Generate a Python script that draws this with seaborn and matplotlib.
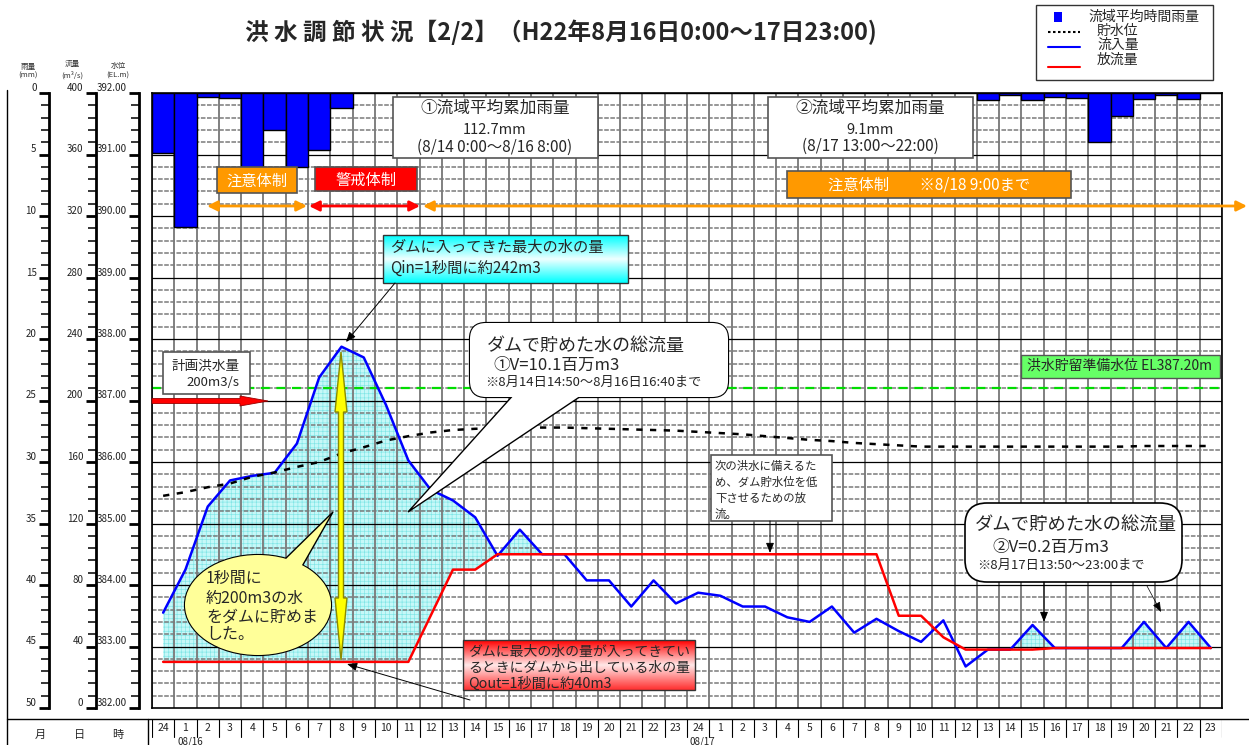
import matplotlib
matplotlib.use('Agg')
import matplotlib.pyplot as plt
import seaborn as sns
import numpy as np
from matplotlib.patches import Rectangle, FancyBboxPatch, Polygon, Ellipse, FancyArrowPatch
from matplotlib.ticker import MultipleLocator, FormatStrFormatter

# ---------------- data ----------------
hour_labels = [24, 1, 2, 3, 4, 5, 6, 7, 8, 9, 10, 11, 12, 13, 14, 15, 16, 17, 18, 19, 20, 21, 22, 23,
               24, 1, 2, 3, 4, 5, 6, 7, 8, 9, 10, 11, 12, 13, 14, 15, 16, 17, 18, 19, 20, 21, 22, 23]
date_labels = ["08/16", "08/17"]

rain_mm = [4.9, 10.9, 0.3, 0.4, 6.0, 3.0, 6.0, 4.6, 1.2, 0, 0, 0, 0, 0, 0, 0, 0, 0, 0, 0, 0, 0, 0, 0,
           0, 0, 0, 0, 0, 0, 0, 0, 0, 0, 0, 0, 0, 0.6, 0.2, 0.6, 0.3, 0.4, 4.0, 1.9, 0.5, 0.2, 0.5, 0]

inflow = [62, 90, 131, 148, 151, 153, 172, 215, 235, 228, 197, 161, 142, 135, 124, 99, 116, 100,
          100, 83, 83, 66, 83, 68, 75, 73, 66, 66, 59, 56, 66, 49, 58, 50, 43, 57, 27, 38, 38, 54,
          39, 39, 39, 39, 56, 39, 56, 39]

outflow = [30, 30, 30, 30, 30, 30, 30, 30, 30, 30, 30, 30, 60, 90, 90, 100, 100, 100,
           100, 100, 100, 100, 100, 100, 100, 100, 100, 100, 100, 100, 100, 100, 100, 60, 60, 46, 38, 38, 38, 38,
           39, 39, 39, 39, 39, 39, 39, 39]

level = [385.45, 385.51, 385.59, 385.65, 385.76, 385.83, 385.92, 386.00, 386.14, 386.24, 386.35, 386.42,
         386.48, 386.52, 386.54, 386.55, 386.56, 386.56, 386.56, 386.55, 386.54, 386.53, 386.52, 386.51,
         386.49, 386.47, 386.45, 386.42, 386.39, 386.36, 386.34, 386.31, 386.29, 386.27, 386.25, 386.25,
         386.25, 386.25, 386.25, 386.25, 386.25, 386.25, 386.25, 386.25, 386.26, 386.26, 386.26, 386.26]

flood_prep_level = 387.20
planned_flow = 200

idx = np.arange(len(hour_labels))

# ---------------- style ----------------
sns.set_theme(style='white')
plt.rcParams['font.family'] = ['Noto Sans CJK JP', 'DejaVu Sans']
plt.rcParams['hatch.linewidth'] = 0.45

W, H = 1249, 745
fig = plt.figure(figsize=(W / 100, H / 100), dpi=100)
fig.patch.set_facecolor('white')

TOP, BOT, LEFT, RIGHT = 93, 708, 152, 1222


def frect(x0, y0, x1, y1):
    return [x0 / W, 1 - y1 / H, (x1 - x0) / W, (y1 - y0) / H]


# ---------------- main axes ----------------
ax = fig.add_axes(frect(LEFT, TOP, RIGHT, BOT))
ax.set_facecolor('white')
for b in np.arange(-0.5, 48, 1):
    ax.axvline(b, color='#808080', lw=1.4, zorder=1)
for v in range(8, 400, 8):
    if v % 40 == 0:
        ax.axhline(v, color='black', lw=0.9, zorder=1.1)
    else:
        ax.axhline(v, color='#7a7a7a', lw=1.1, ls=(0, (3, 1)), zorder=1)

inf = np.array(inflow, float)
outf = np.array(outflow, float)
mask = (inf >= outf) & ((idx <= 17) | (idx >= 37))
ax.fill_between(idx, outf, inf, where=mask, interpolate=True, facecolor='#c6f8f8',
                edgecolor='#7fe6e6', hatch='++++', lw=0, zorder=0.8)

sns.lineplot(x=idx, y=inf, ax=ax, color='#0000FF', lw=1.8, zorder=3)
sns.lineplot(x=idx, y=outf, ax=ax, color='#FF0000', lw=1.8, zorder=3.1)
ax.axhline((flood_prep_level - 382) * 40, color='#00DD00', lw=1.6, ls=(0, (4, 3)), zorder=2.5)

ax.set_xlim(-0.5, 47.5)
ax.set_ylim(0, 400)
ax.set_xticks([])
ax.set_yticks([])
ax.set_xlabel('')
ax.set_ylabel('')
for s in ax.spines.values():
    s.set_color('black')
    s.set_linewidth(1.2)

# rain (inverted, hanging from top)
ax_r = ax.twinx()
sns.barplot(x=idx, y=rain_mm, ax=ax_r, native_scale=True, width=1, color='#0000FF',
            saturation=1, edgecolor='black', linewidth=1, errorbar=None, zorder=4)
ax_r.set_ylim(50, 0)
ax_r.set_xlim(-0.5, 47.5)
ax_r.set_yticks([])
ax_r.set_xticks([])
ax_r.set_ylabel('')
ax_r.set_xlabel('')
for s in ax_r.spines.values():
    s.set_visible(False)

# water level
ax_l = ax.twinx()
sns.lineplot(x=idx, y=level, ax=ax_l, color='black', lw=1.8, linestyle=(0, (2.5, 3)), zorder=3)
ax_l.set_ylim(382, 392)
ax_l.set_xlim(-0.5, 47.5)
ax_l.set_yticks([])
ax_l.set_xticks([])
ax_l.set_ylabel('')
for s in ax_l.spines.values():
    s.set_visible(False)


# ---------------- left scales ----------------
def scale_axis(xpix, lo, hi, major, minor, fmt):
    a = fig.add_axes(frect(xpix, TOP, xpix + 0.5, BOT))
    a.patch.set_visible(False)
    a.set_ylim(lo, hi)
    for s in ['top', 'right', 'bottom']:
        a.spines[s].set_visible(False)
    a.spines['left'].set_linewidth(2)
    a.spines['left'].set_color('black')
    a.set_xticks([])
    a.yaxis.set_major_locator(MultipleLocator(major))
    a.yaxis.set_minor_locator(MultipleLocator(minor))
    a.yaxis.set_major_formatter(FormatStrFormatter(fmt))
    a.tick_params(axis='y', which='major', direction='out', length=7, width=2, labelsize=7,
                  pad=2, colors='black', left=True)
    a.tick_params(axis='y', which='minor', direction='out', length=6, width=1.3, left=True)
    for lb in a.get_yticklabels():
        lb.set_verticalalignment('bottom')
        lb.set_color('#222222')
    return a


scale_axis(49, 50, 0, 5, 1, '%d')
scale_axis(96, 0, 400, 40, 8, '%d')
scale_axis(139, 382, 392, 1, 0.2, '%.2f')

# ---------------- hour table ----------------
tab = fig.add_axes(frect(LEFT, 719, RIGHT, 745))
tab.set_xlim(-0.5, 47.5)
tab.set_ylim(26, 0)
tab.axis('off')
for b in np.arange(-0.5, 48, 1):
    tab.plot([b, b], [0, 18], color='black', lw=0.8)
for i, h in zip(idx, hour_labels):
    tab.text(i, 9, str(h), ha='center', va='center', fontsize=7.5, color='#222222')
tab.text(1.2, 22.5, date_labels[0], ha='center', va='center', fontsize=7, color='#222222')
tab.text(23.6, 22.5, date_labels[1], ha='left', va='center', fontsize=7, color='#222222')

# ---------------- overlay (pixel coordinates) ----------------
ov = fig.add_axes([0, 0, 1, 1])
ov.set_zorder(10)
ov.patch.set_visible(False)
ov.axis('off')


def reset():
    ov.set_xlim(0, W)
    ov.set_ylim(H, 0)


reset()


def box(x0, y0, x1, y1, fc='white', ec='#555555', lw=1.2, z=5):
    ov.add_patch(Rectangle((x0, y0), x1 - x0, y1 - y0, fc=fc, ec=ec, lw=lw, zorder=z))


def t(x, y, s, size, ha='center', z=8, **kw):
    ov.text(x, y, s, fontsize=size, ha=ha, va='center', zorder=z, **kw)


def grad_box(x0, y0, x1, y1, cols):
    n = 60
    cols = np.array([matplotlib.colors.to_rgb(c) for c in cols])
    pos = np.linspace(0, 1, len(cols))
    yy = np.linspace(0, 1, n)
    arr = np.stack([np.interp(yy, pos, cols[:, k]) for k in range(3)], axis=-1)[:, None, :]
    ov.imshow(arr, extent=(x0, x1, y1, y0), aspect='auto', zorder=5, interpolation='bilinear')
    ov.add_patch(Rectangle((x0, y0), x1 - x0, y1 - y0, fill=False, ec='#333333', lw=1, zorder=6))
    reset()


def arrow(p0, p1, lw=0.7, color='black'):
    ov.annotate('', xy=p1, xytext=p0, zorder=7,
                arrowprops=dict(arrowstyle='-|>,head_length=0.5,head_width=0.2', color=color,
                                lw=lw, shrinkA=0, shrinkB=0))


# frame lines on the left / bottom
ov.plot([7, 7], [90, 745], color='black', lw=1)
ov.plot([7, W], [719, 719], color='black', lw=1)
ov.plot([148, 148], [719, 745], color='black', lw=1)

# left headers
t(28, 67, '雨量', 5.5, color='#333333')
t(28, 76, '(mm)', 5.5, color='#333333')
t(72, 64, '流量', 5.5, color='#333333')
t(72, 75, '(m³/s)', 5.5, color='#333333')
t(118, 66, '水位', 5.5, color='#333333')
t(118, 76, '(EL.m)', 5.5, color='#333333')
t(40, 735, '月', 8)
t(80, 735, '日', 8)
t(118, 735, '時', 8)

# title
t(561, 32, '洪 水 調 節 状 況【2/2】（H22年8月16日0:00～17日23:00)', 17, fontweight='bold')

# legend
box(1036, 5, 1213, 80, ec='#333333', lw=1)
ov.add_patch(Rectangle((1054, 12), 8, 10, fc='#0000FF', ec='none', zorder=6))
t(1088, 17, '流域平均時間雨量', 10, ha='left')
ov.plot([1048, 1080], [32, 32], color='black', lw=1.5, ls=(0, (1.2, 1.2)), zorder=6)
t(1097, 31, '貯水位', 10, ha='left')
ov.plot([1048, 1080], [47, 47], color='#0000FF', lw=1.5, zorder=6)
t(1097, 45, '流入量', 10, ha='left')
ov.plot([1048, 1080], [67, 67], color='#FF0000', lw=1.5, zorder=6)
t(1097, 60, '放流量', 10, ha='left')

# cumulative rain boxes
box(393, 97, 598, 158)
t(495, 108, '①流域平均累加雨量', 12)
t(495, 130, '112.7mm', 10.5)
t(495, 147, '(8/14 0:00～8/16 8:00)', 11)
box(768, 97, 973, 158)
t(870, 108, '②流域平均累加雨量', 12)
t(870, 130, '9.1mm', 10.5)
t(870, 146, '(8/17 13:00～22:00)', 11)

# alert boxes
box(217, 167, 297, 193, fc='#FF9900', ec='#555555')
t(257, 181, '注意体制', 11, color='white')
box(315, 167, 417, 191, fc='#FF0000', ec='#555555')
t(366, 180, '警戒体制', 11, color='white')
box(787, 171, 1071, 198, fc='#FF9900', ec='#555555')
t(929, 185, '注意体制　　※8/18 9:00まで', 11, color='white')


def darrow(x0, x1, y, color):
    ov.add_patch(FancyArrowPatch((x0, y), (x1, y), arrowstyle='<|-|>,head_length=0.6,head_width=0.3',
                                 mutation_scale=10, color=color, lw=2, zorder=6,
                                 shrinkA=0, shrinkB=0))


darrow(207, 307, 206, '#FF9900')
darrow(309, 420, 206, '#FF0000')
darrow(423, 1247, 206, '#FF9900')

# max inflow box
grad_box(383, 235, 628, 283, ['#00FFFF', '#F0FFFF', '#00FFFF'])
t(390, 247, 'ダムに入ってきた最大の水の量', 11, ha='left')
t(390, 268, 'Qin=1秒間に約242m3', 11, ha='left')
arrow((395, 283), (346, 342))

# speech bubble 1
ov.add_patch(FancyBboxPatch((470, 323), 258, 74, boxstyle='round,pad=0,rounding_size=16',
                            fc='white', ec='black', lw=1.6, zorder=5))
ov.add_patch(Polygon([(516, 392), (408, 512), (587, 392)], closed=False, fc='white', ec='black',
                     lw=1, zorder=6))
ov.add_patch(FancyBboxPatch((470, 323), 258, 74, boxstyle='round,pad=0,rounding_size=16',
                            fc='white', ec='none', zorder=6.5))
t(487, 346, 'ダムで貯めた水の総流量', 13, ha='left')
t(493, 365, '①V=10.1百万m3', 12, ha='left')
t(485, 382, '※8月14日14:50～8月16日16:40まで', 9.5, ha='left')

# planned flood flow
box(163, 352, 250, 394)
t(206, 366, '計画洪水量', 9.8)
t(213, 383, '200m3/s', 9.5)
ov.add_patch(Polygon([(152, 398.5), (240, 398.5), (240, 396), (268, 401), (240, 406),
                      (240, 403.5), (152, 403.5)], closed=True, fc='#FF0000', ec='#990000',
                     lw=0.6, zorder=6))

# flood preparation level box
box(1021, 355, 1220, 378, fc='#66FF66', ec='#555555', lw=1)
t(1027, 366, '洪水貯留準備水位 EL387.20m', 10, ha='left')

# yellow double arrow
xa = 341
ov.add_patch(Polygon([(xa, 352), (xa + 6, 412), (xa + 2.5, 412), (xa + 2.5, 598), (xa + 6, 598),
                      (xa, 660), (xa - 6, 598), (xa - 2.5, 598), (xa - 2.5, 412), (xa - 6, 412)],
                     closed=True, fc='#FFFF00', ec='#8B8B00', lw=1, zorder=6))

# yellow ellipse bubble
ov.add_patch(Ellipse((258, 605), 146, 100, fc='#FFFF99', ec='black', lw=1.6, zorder=5))
ov.add_patch(Polygon([(282, 562), (333, 512), (300, 570)], closed=False, fc='#FFFF99', ec='black',
                     lw=1, zorder=6))
ov.add_patch(Ellipse((258, 605), 146, 100, fc='#FFFF99', ec='none', zorder=6.5))
t(206, 578, '1秒間に', 11.5, ha='left')
t(206, 598, '約200m3の水', 11.5, ha='left')
t(206, 617, 'をダムに貯めま', 11.5, ha='left')
t(206, 635, 'した。', 11.5, ha='left')

# max outflow box
grad_box(463, 640, 695, 690, ['#FF0000', '#FFE8E8', '#FF3030'])
t(468, 652, 'ダムに最大の水の量が入ってきてい', 10, ha='left')
t(468, 668, 'るときにダムから出している水の量', 10, ha='left')
t(468, 684, 'Qout=1秒間に約40m3', 10.3, ha='left')
arrow((470, 700), (347, 664))

# next flood box
box(711, 455, 832, 521)
for k, line in enumerate(['次の洪水に備えるた', 'め、ダム貯水位を低', '下させるための放', '流。']):
    t(715, 466 + 16 * k, line, 8.2, ha='left')
arrow((770, 521), (770, 553))

# speech bubble 2
ov.add_patch(FancyBboxPatch((965, 503), 217, 79, boxstyle='round,pad=0,rounding_size=22',
                            fc='white', ec='black', lw=1.2, zorder=5))
t(975, 526, 'ダムで貯めた水の総流量', 13.2, ha='left')
t(992, 547, '②V=0.2百万m3', 12, ha='left')
t(977, 565, '※8月17日13:50～23:00まで', 9.5, ha='left')
arrow((1044, 582), (1044, 622))
arrow((1147, 586), (1161, 612), lw=0.5)

reset()
fig.savefig('out.png', dpi=100, facecolor='white')
